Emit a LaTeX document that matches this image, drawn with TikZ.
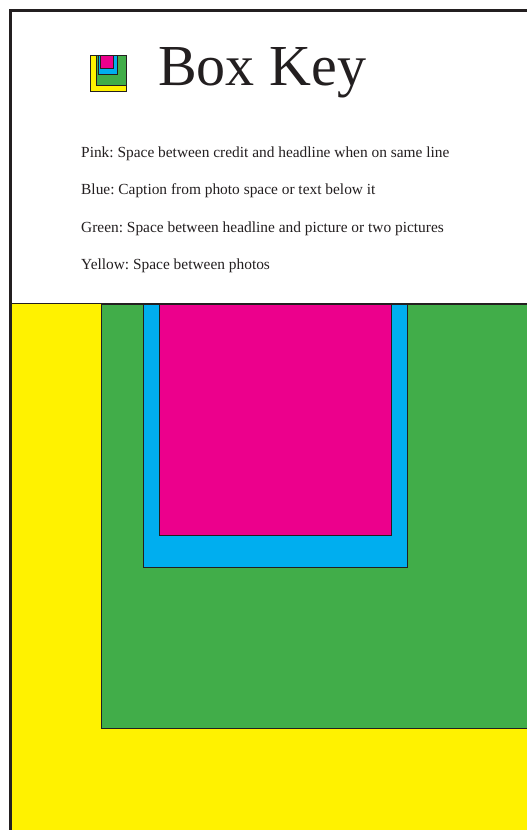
\documentclass[tikz,border=0pt]{standalone}
\usepackage{fontspec}
\setmainfont{Liberation Serif}
\frenchspacing
\definecolor{kyellow}{HTML}{FFF200}
\definecolor{kgreen}{HTML}{41AD49}
\definecolor{kblue}{HTML}{00AEEF}
\definecolor{kpink}{HTML}{EC008C}
\definecolor{kdark}{HTML}{231F20}
\begin{document}
\begin{tikzpicture}[x=1pt,y=1pt,
  boxline/.style={draw=kdark,line width=0.8pt},
  keytext/.style={anchor=base west,inner sep=0pt,font=\fontsize{15.4}{18}\selectfont,text=kdark}]
\useasboundingbox (0,0) rectangle (527,830);
\fill[white] (0,0) rectangle (527,830);
% big boxes
\fill[kyellow] (12,0) rectangle (527,526);
\filldraw[fill=kgreen,boxline] (527,526) -- (101,526) -- (101,102) -- (527,102);
\filldraw[fill=kblue,boxline] (143,526) rectangle (407,262.5);
\filldraw[fill=kpink,boxline] (159,526) rectangle (391,295);
\draw[kdark,line width=1pt] (12,526) -- (527,526);
% frame
\draw[kdark,line width=3.5pt] (10.5,0) -- (10.5,819.5) -- (527,819.5);
% icon
\filldraw[fill=kyellow,boxline] (90.5,775) rectangle (126.5,738.3);
\filldraw[fill=kgreen,boxline] (96.5,775) rectangle (126.5,745);
\filldraw[fill=kblue,boxline] (98.5,775) rectangle (117,756);
\filldraw[fill=kpink,boxline] (100.5,775) rectangle (113.5,762);
% title
\node[anchor=base west,inner sep=0pt,font=\fontsize{58}{60}\selectfont,text=kdark] (title) at (158,744) {Box Key};
% key lines
\node[keytext] (pink) at (81,672) {Pink: Space between credit and headline when on same line};
\node[keytext] (blue) at (81,635) {Blue: Caption from photo space or text below it};
\node[keytext] (green) at (81,597) {Green: Space between headline and picture or two pictures};
\node[keytext] (yellow) at (81,560) {Yellow: Space between photos};
\end{tikzpicture}
\end{document}
